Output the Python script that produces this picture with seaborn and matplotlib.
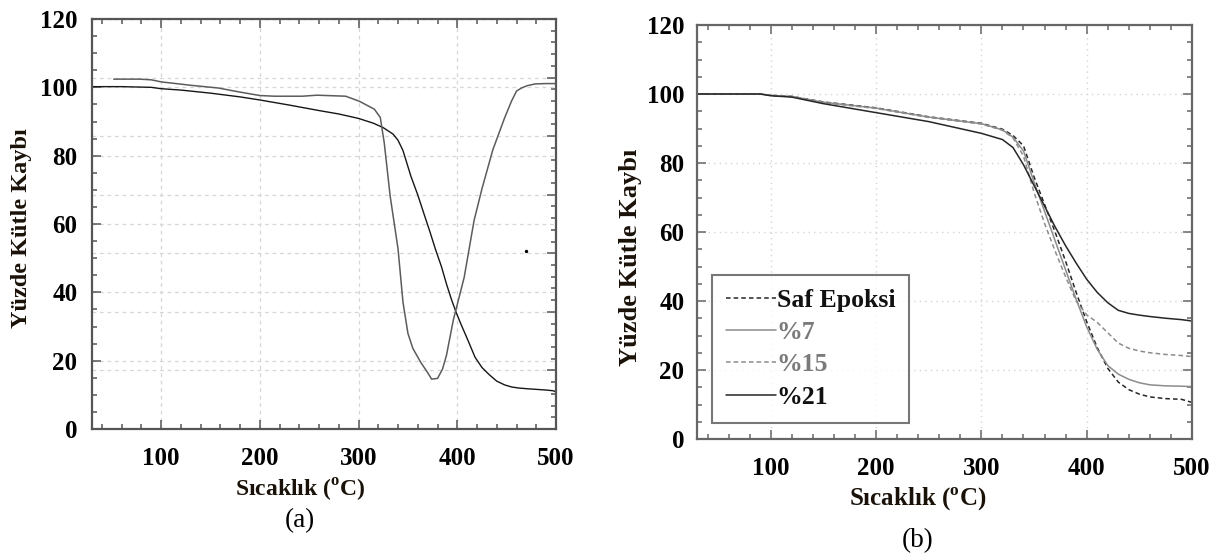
"""Two TGA panels: (a) mass / derivative curve, (b) epoxy composites."""

import matplotlib

matplotlib.use("Agg")

import matplotlib.pyplot as plt
import numpy as np
import pandas as pd
import seaborn as sns
from matplotlib.lines import Line2D
from matplotlib.ticker import MultipleLocator

sns.set_theme(context="notebook", style="ticks")
plt.rcParams["font.family"] = ["Liberation Serif", "DejaVu Serif"]
plt.rcParams["mathtext.fontset"] = "custom"
plt.rcParams["mathtext.rm"] = "Liberation Serif"
plt.rcParams["mathtext.bf"] = "Liberation Serif:bold"

# ----- panel (a) data
tga_temp = [30, 60, 90, 100, 120, 150, 180, 200, 230, 260, 280, 300, 315, 325,
            335, 340, 345, 353, 360, 366, 372, 378, 384, 389, 394, 399, 404,
            410, 418, 425, 432, 440, 448, 455, 462, 470, 480, 490, 497, 500]
tga_mass = [100.2, 100.2, 100.0, 99.6, 99.2, 98.3, 97.2, 96.3, 94.8, 93.2, 92.2,
            90.9, 89.5, 88.2, 86.3, 84.5, 81.5, 74.0, 68.5, 63.2, 58.0, 52.5,
            47.5, 42.5, 38.0, 34.0, 30.5, 26.5, 21.0, 18.0, 16.0, 14.0, 12.9,
            12.3, 12.0, 11.8, 11.6, 11.4, 11.2, 10.9]

dtg_temp = [52, 78, 90, 100, 130, 158, 180, 200, 215, 243, 258, 287, 301, 316,
            322, 326, 332, 340, 345, 350, 355, 363, 370, 374, 380, 385, 389,
            396, 407, 417, 425, 436, 448, 455, 460, 465, 471, 479, 490, 500]
dtg_mass = [102.4, 102.4, 102.2, 101.6, 100.6, 99.8, 98.6, 97.6, 97.4, 97.4,
            97.7, 97.4, 95.9, 93.6, 91.2, 83.8, 68.2, 52.7, 37.1, 28.0, 23.6,
            19.5, 16.5, 14.6, 14.8, 17.5, 21.5, 31.9, 44.4, 61.0, 70.3, 81.7,
            91.1, 96.0, 98.9, 99.8, 100.5, 101.0, 101.1, 101.1]

dot_temp = [470]
dot_mass = [52]

# ----- panel (b) data
temp_b = [30, 90, 100, 120, 150, 200, 250, 300, 320, 330, 340, 350, 360, 370,
          380, 390, 400, 410, 420, 430, 440, 450, 460, 475, 490, 500]
saf_epoksi = [100, 100, 99.6, 99.3, 97.7, 96.0, 93.4, 91.5, 89.8, 88.0, 85.0,
              76.0, 68.0, 60.0, 51.5, 42.5, 34.0, 26.5, 20.5, 16.5, 14.3, 13.0,
              12.2, 11.7, 11.5, 10.6]
pct_7 = [100, 100, 99.6, 99.3, 97.6, 95.9, 93.3, 91.4, 89.6, 87.5, 83.5, 74.5,
         66.0, 57.5, 49.0, 40.5, 32.5, 26.0, 21.3, 18.8, 17.3, 16.3, 15.7,
         15.4, 15.3, 15.2]
pct_15 = [100, 100, 99.6, 99.2, 97.5, 95.8, 93.2, 91.3, 89.5, 87.3, 82.0, 71.5,
          62.5, 54.5, 47.0, 40.0, 36.0, 33.8, 30.8, 27.8, 26.3, 25.5, 25.0,
          24.5, 24.2, 23.9]
pct_21 = [100, 100, 99.5, 99.1, 97.2, 94.6, 92.0, 88.6, 86.8, 84.5, 79.5, 73.5,
          67.5, 61.5, 56.0, 51.0, 46.3, 42.5, 39.5, 37.3, 36.4, 35.9, 35.5,
          35.0, 34.6, 34.2]

series_b = ["Saf Epoksi", "%7", "%15", "%21"]
colors_b = ["#262626", "#8c8c8c", "#8c8c8c", "#262626"]
styles_b = [(0, (3, 2)), "-", (0, (3, 2)), "-"]
text_colors_b = ["#111111", "#7a7a7a", "#7a7a7a", "#111111"]

df_b = pd.DataFrame({
    "temp": temp_b * 4,
    "mass": saf_epoksi + pct_7 + pct_15 + pct_21,
    "series": np.repeat(series_b, len(temp_b)),
})

LABEL_COLOR = "#1a1208"
W, H = 1219, 557

fig = plt.figure(figsize=(W / 100, H / 100), dpi=100)
ax_a = fig.add_axes([92 / W, 1 - 429 / H, (556 - 92) / W, (429 - 19) / H])
ax_b = fig.add_axes([697 / W, 1 - 439 / H, (1192 - 697) / W, (439 - 25) / H])


def style_axes(ax, spine_col, fs, lab_fs, ylab_fs, ypad, right_ticks=True):
    ax.set_xlim(30, 500)
    ax.set_ylim(0, 120)
    ax.xaxis.set_major_locator(MultipleLocator(100))
    ax.xaxis.set_minor_locator(MultipleLocator(20))
    ax.yaxis.set_major_locator(MultipleLocator(20))
    ax.yaxis.set_minor_locator(MultipleLocator(5))
    for s in ax.spines.values():
        s.set_visible(True)
        s.set_color(spine_col)
        s.set_linewidth(1.6)
    ax.tick_params(which="both", direction="in", top=True, right=right_ticks,
                   color=spine_col, width=1.1)
    ax.tick_params(which="major", length=6.5)
    ax.tick_params(which="minor", length=3.5)
    ax.tick_params(axis="y", which="major", pad=ypad)
    ax.tick_params(axis="x", which="major", pad=13)
    ax.set_xticks([100, 200, 300, 400, 500])
    ax.set_xticklabels(["100", "200", "300", "400", "500"])
    for lab in ax.get_xticklabels() + ax.get_yticklabels():
        lab.set_fontsize(fs)
        lab.set_fontweight("bold")
        lab.set_color("black")
    ax.set_xlabel("Sıcaklık ($^{\\mathbf{o}}$C)", fontsize=lab_fs,
                  fontweight="bold", color=LABEL_COLOR, va="center")
    ax.set_ylabel("Yüzde Kütle Kaybı", fontsize=ylab_fs, fontweight="bold",
                  color=LABEL_COLOR, va="center")


# ----- (a)
sns.lineplot(x=tga_temp, y=tga_mass, ax=ax_a, color="#161616", lw=1.0,
             sort=False)
sns.lineplot(x=dtg_temp, y=dtg_mass, ax=ax_a, color="#5c5c5c", lw=1.1,
             sort=False)
sns.scatterplot(x=dot_temp, y=dot_mass, ax=ax_a, color="black", s=6,
                linewidth=0)
style_axes(ax_a, "#555555", 18, 17, 17.5, 10.5, right_ticks=False)
ax_a.grid(True, which="major", color="#d6d6d6", lw=0.9, linestyle=(0, (3, 3)))
ax_a.set_axisbelow(True)
ax_a.xaxis.set_label_coords(0.448, -0.149)
ax_a.yaxis.set_label_coords(-0.151, 0.49)

# second (unlabelled) scale that the original had on the right side
ax_a2 = ax_a.twinx()
ax_a2.set_ylim(0, 7)
ax_a2.yaxis.set_major_locator(MultipleLocator(1))
ax_a2.yaxis.set_minor_locator(MultipleLocator(0.2))
ax_a2.tick_params(which="both", direction="in", right=True, labelright=False,
                  color="#555555", width=1.1)
ax_a2.tick_params(which="major", length=6.5)
ax_a2.tick_params(which="minor", length=3.5)
for s in ax_a2.spines.values():
    s.set_visible(False)
ax_a2.grid(True, which="major", color="#d6d6d6", lw=0.9, linestyle=(0, (3, 3)))
ax_a2.set_zorder(ax_a.get_zorder() - 1)
ax_a.patch.set_visible(False)

# ----- (b)
for name, col, ls in zip(series_b, colors_b, styles_b):
    sub = df_b[df_b["series"] == name]
    sns.lineplot(data=sub, x="temp", y="mass", ax=ax_b, color=col, lw=1.1,
                 linestyle=ls, sort=False)
style_axes(ax_b, "#666666", 18, 18, 19, 9)
ax_b.grid(True, which="major", color="#d4d4d4", lw=1.0, linestyle=(0, (1, 3)))
ax_b.set_axisbelow(True)
ax_b.xaxis.set_label_coords(0.446, -0.147)
ax_b.yaxis.set_label_coords(-0.135, 0.44)

handles = [Line2D([0], [0], color=c, lw=1.1, linestyle=ls)
           for c, ls in zip(colors_b, styles_b)]
leg = ax_b.legend(handles, series_b, loc="lower left",
                  bbox_to_anchor=(0.03, 0.039), borderaxespad=0,
                  frameon=True, fancybox=False, handlelength=1.95,
                  handletextpad=0.02, labelspacing=0.36, borderpad=0.55,
                  prop={"family": "Liberation Serif", "weight": "bold",
                        "size": 18.5})
leg.get_frame().set_edgecolor("#555555")
leg.get_frame().set_linewidth(1.5)
for txt, tc in zip(leg.get_texts(), text_colors_b):
    txt.set_color(tc)

fig.text(300 / W, 1 - 521 / H, "(a)", ha="center", va="center", fontsize=19.5,
         color="black")
fig.text(918 / W, 1 - 541 / H, "(b)", ha="center", va="center", fontsize=19.5,
         color="black")

fig.savefig("out.png", dpi=100)
